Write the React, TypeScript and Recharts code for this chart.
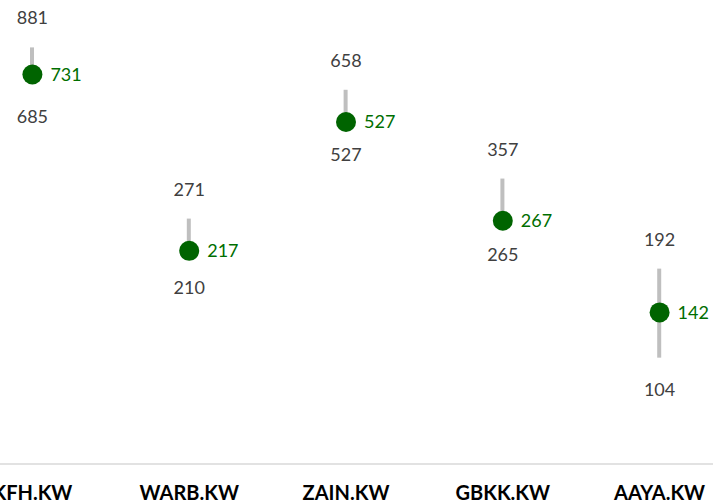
import React from 'react';
import { ComposedChart, Bar, Line, XAxis, YAxis, LabelList } from 'recharts';

const tickers = ['KFH.KW', 'WARB.KW', 'ZAIN.KW', 'GBKK.KW', 'AAYA.KW'];
const highs = [881, 271, 658, 357, 192];
const lows = [685, 210, 527, 265, 104];
const lasts = [731, 217, 527, 267, 142];

const data = tickers.map((t, i) => ({
  name: t,
  range: [lows[i], highs[i]],
  high: highs[i],
  low: lows[i],
  last: lasts[i],
}));

const GRAY_TXT = '#404040';
const GREEN = '#006400';

export default function App() {
  return (
    <div
      style={{
        position: 'absolute',
        left: 0,
        top: 0,
        width: 713,
        height: 503,
        overflow: 'hidden',
        fontFamily: 'Lato, "Open Sans", sans-serif',
      }}
    >
      <div style={{ position: 'absolute', left: -46.4, top: 0 }}>
        <ComposedChart
          width={784}
          height={503}
          data={data}
          margin={{ top: 29, right: 0, bottom: 0, left: 0 }}
        >
          <XAxis
            dataKey="name"
            height={39}
            axisLine={{ stroke: '#d9d9d9', strokeWidth: 1.5 }}
            tickLine={false}
            tickMargin={16}
            tick={{ fill: '#000', fontSize: 20, fontWeight: 700 }}
          />
          <YAxis type="number" scale="log" domain={[50, 1000]} allowDataOverflow hide />
          <Bar dataKey="range" fill="#bfbfbf" barSize={4} isAnimationActive={false} />
          <Line dataKey="high" stroke="none" dot={false} activeDot={false} isAnimationActive={false}>
            <LabelList dataKey="high" position="top" offset={23} fill={GRAY_TXT} fontSize={18} />
          </Line>
          <Line dataKey="low" stroke="none" dot={false} activeDot={false} isAnimationActive={false}>
            <LabelList dataKey="low" position="bottom" offset={26} fill={GRAY_TXT} fontSize={18} />
          </Line>
          <Line
            dataKey="last"
            stroke="none"
            dot={{ r: 10, fill: GREEN, stroke: 'none' }}
            activeDot={false}
            isAnimationActive={false}
          >
            <LabelList dataKey="last" position="right" offset={18} fill="#006e00" fontSize={18} />
          </Line>
        </ComposedChart>
      </div>
    </div>
  );
}
